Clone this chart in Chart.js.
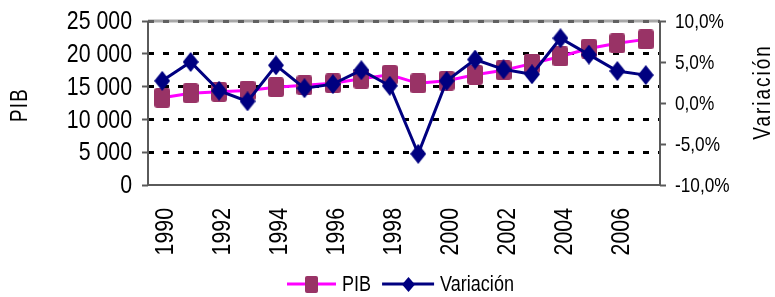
<!DOCTYPE html>
<html><head><meta charset="utf-8">
<script src="https://cdn.jsdelivr.net/npm/chart.js@4"></script>
<style>html,body{margin:0;padding:0;background:#fff;} canvas{display:block;}</style>
</head><body>
<canvas id="c" width="775" height="297"></canvas>
<script>
const years = ['1990','1991','1992','1993','1994','1995','1996','1997','1998','1999','2000','2001','2002','2003','2004','2005','2006','2007'];
const pib = [13300,14000,14200,14400,14900,15200,15500,16200,16800,15500,15900,16800,17500,18500,19600,20800,21600,22200];
const variacion = [2.7,5.0,1.5,0.2,4.6,1.8,2.3,4.0,2.1,-6.2,2.7,5.3,4.1,3.5,7.9,5.9,3.9,3.4];
const pibTicks = [0,5000,10000,15000,20000,25000];
const varTicks = [-10,-5,0,5,10];
const shownYears = ['1990','1992','1994','1996','1998','2000','2002','2004','2006'];
const seriesNames = ['PIB','Variación'];
const axisTitles = ['PIB','Variación'];

const FONT = '"Liberation Sans",Arial,sans-serif';
const SX = 0.82; // narrow look
const PIB_LINE = '#FF00FF', PIB_MARK = '#993366', VAR_COL = '#000080';

function fmtPib(v) { return v === 0 ? '0' : (v / 1000) + ' 000'; }
function fmtVar(v) { return v.toFixed(1).replace('.', ',') + '%'; }

function makeSquare(w, h, r, color) {
  const c = document.createElement('canvas'); c.width = w; c.height = h;
  const g = c.getContext('2d'); g.fillStyle = color;
  g.beginPath();
  g.moveTo(r, 0); g.lineTo(w - r, 0); g.quadraticCurveTo(w, 0, w, r);
  g.lineTo(w, h - r); g.quadraticCurveTo(w, h, w - r, h);
  g.lineTo(r, h); g.quadraticCurveTo(0, h, 0, h - r);
  g.lineTo(0, r); g.quadraticCurveTo(0, 0, r, 0);
  g.closePath(); g.fill();
  return c;
}
function makeDiamond(w, h, color) {
  const c = document.createElement('canvas'); c.width = w; c.height = h;
  const g = c.getContext('2d'); g.fillStyle = color;
  g.beginPath(); g.moveTo(w / 2, 0); g.lineTo(w, h / 2); g.lineTo(w / 2, h); g.lineTo(0, h / 2); g.closePath(); g.fill();
  return c;
}
const sqImg = makeSquare(16, 20, 3, PIB_MARK);
const diaImg = makeDiamond(16, 20, VAR_COL);
const sqLeg = makeSquare(13, 17, 2, PIB_MARK);
const diaLeg = makeDiamond(13, 15, VAR_COL);

function txt(ctx, s, x, y, size, align, rot, spacing) {
  ctx.save();
  ctx.font = size + 'px ' + FONT;
  ctx.textAlign = align; ctx.textBaseline = 'middle';
  try { ctx.letterSpacing = (spacing || 0) + 'px'; } catch (e) {}
  ctx.translate(x, y);
  if (rot) ctx.rotate(rot);
  ctx.scale(SX, 1);
  ctx.fillStyle = '#000';
  ctx.fillText(s, 0, 0);
  ctx.restore();
}
function txtWidth(ctx, s, size) {
  ctx.save(); ctx.font = size + 'px ' + FONT; const w = ctx.measureText(s).width * SX; ctx.restore(); return w;
}

const framePlugin = {
  id: 'frame',
  beforeDraw(chart) {
    const {ctx, chartArea: a} = chart;
    if (!a) return;
    ctx.save();
    ctx.lineWidth = 3; ctx.strokeStyle = '#a8a8a8';
    ctx.beginPath(); ctx.moveTo(a.left, a.top); ctx.lineTo(a.right, a.top); ctx.stroke();
    ctx.restore();
  },
  beforeDatasetsDraw(chart) {
    const {ctx, chartArea: a} = chart;
    ctx.save();
    ctx.lineWidth = 2; ctx.strokeStyle = '#5a5a5a';
    ctx.beginPath();
    ctx.moveTo(a.left, a.top); ctx.lineTo(a.left, a.bottom); ctx.lineTo(a.right, a.bottom); ctx.lineTo(a.right, a.top);
    ctx.stroke();
    ctx.restore();
  }
};

const textPlugin = {
  id: 'texts',
  afterDraw(chart) {
    const {ctx, scales, chartArea: a} = chart;
    pibTicks.forEach(v => txt(ctx, fmtPib(v), a.left - 16, scales.y.getPixelForValue(v) + 1, 26, 'right', 0));
    varTicks.forEach(v => txt(ctx, fmtVar(v), a.right + 15, scales.y1.getPixelForValue(v) + 1, 21, 'left', 0));
    shownYears.forEach(l => {
      const i = years.indexOf(l);
      txt(ctx, l, scales.x.getPixelForValue(i) + 4, a.bottom + 23, 26, 'right', -Math.PI / 2);
    });
    txt(ctx, axisTitles[0], 21, 105, 23, 'center', -Math.PI / 2, 1.5);
    txt(ctx, axisTitles[1], 764, 92, 23, 'center', -Math.PI / 2, 2.5);
    const ly = 284;
    let x = 287;
    const items = [
      {name: seriesNames[0], line: PIB_LINE, img: sqLeg, len: 49},
      {name: seriesNames[1], line: VAR_COL, img: diaLeg, len: 52}
    ];
    items.forEach(it => {
      ctx.save();
      ctx.strokeStyle = it.line; ctx.lineWidth = 3;
      ctx.beginPath(); ctx.moveTo(x, ly); ctx.lineTo(x + it.len, ly); ctx.stroke();
      ctx.drawImage(it.img, Math.round(x + it.len / 2 - it.img.width / 2), Math.round(ly - it.img.height / 2));
      ctx.restore();
      x += it.len + 6;
      txt(ctx, it.name, x, ly + 1, 22, 'left', 0);
      x += txtWidth(ctx, it.name, 22) + 11;
    });
  }
};

new Chart(document.getElementById('c'), {
  type: 'line',
  data: {
    labels: years,
    datasets: [
      {label: seriesNames[0], data: pib, yAxisID: 'y', borderColor: PIB_LINE, backgroundColor: PIB_MARK, borderWidth: 3,
       pointStyle: sqImg, pointRadius: 8, tension: 0, fill: false, order: 1},
      {label: seriesNames[1], data: variacion, yAxisID: 'y1', borderColor: VAR_COL, backgroundColor: VAR_COL, borderWidth: 3,
       pointStyle: diaImg, pointRadius: 8, tension: 0, fill: false, order: 0}
    ]
  },
  options: {
    responsive: false, animation: false, devicePixelRatio: 1, events: [],
    layout: {padding: {left: 0, right: 0, top: 21, bottom: 0}},
    plugins: {legend: {display: false}, tooltip: {enabled: false}, title: {display: false}},
    scales: {
      x: {
        type: 'category', offset: true,
        grid: {display: false, drawTicks: false},
        border: {display: false},
        ticks: {display: false},
        afterFit: s => { s.height = 112; }
      },
      y: {
        position: 'left', min: 0, max: 25000,
        afterBuildTicks: s => { s.ticks = pibTicks.map(v => ({value: v})); },
        grid: {
          color: c => (c.tick && c.tick.value === 25000) ? '#606060' : ((c.tick && c.tick.value === 0) ? 'rgba(0,0,0,0)' : '#000'),
          lineWidth: 3, drawTicks: true, tickLength: 6, tickColor: '#5a5a5a', tickWidth: 2, tickBorderDash: []
        },
        border: {display: false, dash: [6, 9], dashOffset: 0},
        ticks: {display: false, autoSkip: false},
        afterFit: s => { s.width = 148; }
      },
      y1: {
        position: 'right', min: -10, max: 10,
        afterBuildTicks: s => { s.ticks = varTicks.map(v => ({value: v})); },
        grid: {drawOnChartArea: false, drawTicks: true, tickLength: 6, tickColor: '#5a5a5a', tickWidth: 2, tickBorderDash: []},
        border: {display: false},
        ticks: {display: false, autoSkip: false},
        afterFit: s => { s.width = 115; }
      }
    }
  },
  plugins: [framePlugin, textPlugin]
});
</script>
</body></html>
